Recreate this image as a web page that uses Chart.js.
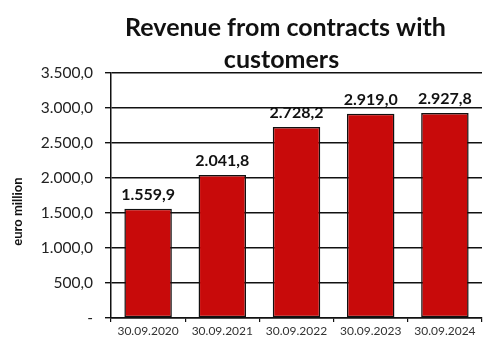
<!DOCTYPE html>
<html>
<head>
<meta charset="utf-8">
<script src="https://cdn.jsdelivr.net/npm/chart.js@4"></script>
<style>
  html, body { margin: 0; padding: 0; background: #ffffff; }
  #wrap { width: 483px; height: 342px; }
</style>
</head>
<body>
<div id="wrap"><canvas id="c" width="483" height="342"></canvas></div>
<script>
// Revenue from contracts with customers, euro million
const categories = ['30.09.2020', '30.09.2021', '30.09.2022', '30.09.2023', '30.09.2024'];
const revenue = [1559.9, 2041.8, 2728.2, 2919.0, 2927.8];
const titleLines = ['Revenue from contracts with', 'customers'];
const yAxisTitle = 'euro million';

const FONT = 'Lato, "Open Sans", "DejaVu Sans", sans-serif';

// German number format: 2.919,0
function fmt(v) {
  const fixed = Math.abs(v).toFixed(1);
  const [intPart, dec] = fixed.split('.');
  const withDots = intPart.replace(/\B(?=(\d{3})+(?!\d))/g, '.');
  return (v < 0 ? '-' : '') + withDots + ',' + dec;
}

// Two-line title centred over the plot, plus the rotated axis caption
const titlePlugin = {
  id: 'twoLineTitle',
  afterDraw(chart) {
    const ctx = chart.ctx;
    const area = chart.chartArea;
    const cx = (area.left + area.right) / 2 - 12;
    ctx.save();
    ctx.fillStyle = '#111111';
    ctx.font = 'bold 25px ' + FONT;
    ctx.textAlign = 'center';
    ctx.textBaseline = 'middle';
    ctx.fillText(titleLines[0], cx + 1, 28);
    ctx.fillText(titleLines[1], cx - 3, 60);

    ctx.translate(18, (area.top + area.bottom) / 2 + 16);
    ctx.rotate(-Math.PI / 2);
    ctx.font = 'bold 13px ' + FONT;
    ctx.fillText(yAxisTitle, 0, 0);
    ctx.restore();
  }
};

// Value labels above each bar
const valueLabels = {
  id: 'valueLabels',
  afterDatasetsDraw(chart) {
    const ctx = chart.ctx;
    const meta = chart.getDatasetMeta(0);
    ctx.save();
    ctx.fillStyle = '#111111';
    ctx.font = 'bold 16px ' + FONT;
    ctx.textAlign = 'center';
    ctx.textBaseline = 'bottom';
    meta.data.forEach((bar, i) => {
      ctx.fillText(fmt(chart.data.datasets[0].data[i]), bar.x, bar.y - 6);
    });
    ctx.restore();
  }
};

new Chart(document.getElementById('c'), {
  type: 'bar',
  data: {
    labels: categories,
    datasets: [{
      data: revenue,
      backgroundColor: '#C80A0A',
      borderColor: '#111111',
      borderWidth: 1.5,
      borderSkipped: false,
      categoryPercentage: 1,
      barPercentage: 0.64
    }]
  },
  options: {
    responsive: false,
    animation: false,
    events: [],
    layout: { padding: { top: 73, right: 1, bottom: 0, left: 0 } },
    plugins: {
      legend: { display: false },
      title: { display: false },
      tooltip: { enabled: false }
    },
    scales: {
      x: {
        offset: true,
        grid: {
          display: true,
          drawOnChartArea: false,
          drawTicks: true,
          tickLength: 4,
          color: '#111111',
          lineWidth: 1.2
        },
        border: { display: true, color: '#111111', width: 1.5 },
        ticks: {
          color: '#333333',
          font: { family: FONT, size: 12 },
          padding: 2,
          maxRotation: 0
        },
        afterFit(scale) { scale.height = 24; }
      },
      y: {
        min: 0,
        max: 3500,
        ticks: {
          stepSize: 500,
          color: '#222222',
          font: { family: FONT, size: 15.5 },
          padding: 12,
          callback: (v) => (v === 0 ? '-' : fmt(v))
        },
        grid: {
          color: '#111111',
          lineWidth: 1.4,
          drawTicks: true,
          tickLength: 6
        },
        border: { display: true, color: '#111111', width: 1.5 },
        title: { display: false },
        afterFit(scale) { scale.width = 111; }
      }
    }
  },
  plugins: [titlePlugin, valueLabels]
});
</script>
</body>
</html>
